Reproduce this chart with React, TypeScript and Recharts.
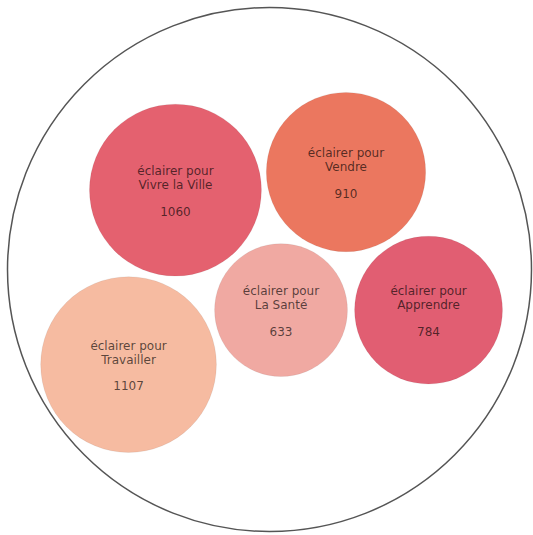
import React from 'react';
import { ScatterChart, Scatter, XAxis, YAxis, ZAxis, ReferenceDot } from 'recharts';

// --- data ---
const categories = ['Vivre la Ville', 'Vendre', 'La Santé', 'Apprendre', 'Travailler'];
const values = [1060, 910, 633, 784, 1107];
const labelPrefix = 'éclairer pour';
const colors = ['#E4616F', '#EB775F', '#F0A9A2', '#E15E72', '#F6BBA1'];
// packed-bubble layout (force simulation result), relative to the parent centre, in parent radii
const layoutX = [-0.359, 0.292, 0.044, 0.607, -0.538];
const layoutY = [-0.303, -0.372, 0.155, 0.155, 0.363];

const data = categories.map((name, i) => ({
  name,
  x: layoutX[i],
  y: layoutY[i],
  z: values[i],
  color: colors[i],
}));

const W = 533;
const H = 535;
const MARGIN = { top: 7.5, right: 1.5, bottom: 3.5, left: 7.5 };
const PARENT_R = (W - MARGIN.left - MARGIN.right) / 2;

const Bubble = (props: any) => {
  const { cx, cy, width, payload } = props;
  const r = width / 2;
  const font = { fontFamily: 'DejaVu Sans, Verdana, sans-serif', fontSize: 12 };
  return (
    <g>
      <circle cx={cx} cy={cy} r={r} fill={payload.color} stroke="#000" strokeOpacity={0.06} strokeWidth={1} />
      <text textAnchor="middle" fill="#000" fillOpacity={0.65} {...font}>
        <tspan x={cx} y={cy - 15}>{labelPrefix}</tspan>
        <tspan x={cx} y={cy - 1}>{payload.name}</tspan>
        <tspan x={cx} y={cy + 25.5}>{payload.z}</tspan>
      </text>
    </g>
  );
};

export default function App() {
  return (
    <div style={{ position: 'absolute', left: 0, top: 0, background: '#fff' }}>
      <ScatterChart width={W} height={H} margin={MARGIN}>
        <XAxis type="number" dataKey="x" domain={[-1, 1]} hide />
        <YAxis type="number" dataKey="y" domain={[-1, 1]} reversed hide />
        <ZAxis type="number" dataKey="z" domain={[0, 1200]} range={[0, 26280]} />
        <ReferenceDot x={0} y={0} r={PARENT_R} fill="none" stroke="#555" strokeWidth={1.5} />
        <Scatter data={data} shape={<Bubble />} isAnimationActive={false} />
      </ScatterChart>
    </div>
  );
}
